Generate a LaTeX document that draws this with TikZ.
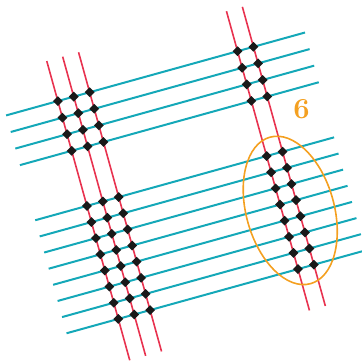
\documentclass[tikz,border=0pt]{standalone}
\usetikzlibrary{shapes.geometric}
\definecolor{cyanline}{HTML}{14A8B8}
\definecolor{redline}{HTML}{E8324F}
\definecolor{orangec}{HTML}{F4A020}
\begin{document}
\begin{tikzpicture}[x=1pt,y=1pt,
  cyanl/.style={cyanline, line width=2pt},
  redl/.style={redline, line width=1.6pt},
  dot/.style={diamond, fill=black!90, inner sep=0pt, minimum size=10pt},
  ring/.style={orangec, line width=1.6pt},
  lbl/.style={text=orangec, font=\bfseries\fontsize{29}{29}\selectfont}]
\useasboundingbox (0,0) rectangle (362,362);
\clip (0,0) rectangle (362,362);
\begin{scope}[rotate=15.5]
  \foreach \b [count=\i] in {236,218.8,201.6,184.4,127.2,110.4,93.7,76.9,60.2,43.4,26.7,9.9} {
    \coordinate (cs\i) at (71.8,\b);
    \coordinate (ce\i) at (382,\b);
    \draw[cyanl] (cs\i) -- (ce\i);
  }
  \foreach \a [count=\j] in {125.5,142,158.5,312,328.5} {
    \coordinate (rs\j) at (\a,277.5);
    \coordinate (re\j) at (\a,-33);
    \draw[redl] (rs\j) -- (re\j);
  }
  \foreach \b [count=\i] in {236,218.8,201.6,184.4,127.2,110.4,93.7,76.9,60.2,43.4,26.7,9.9} {
    \foreach \a [count=\j] in {125.5,142,158.5,312,328.5} {
      \node[dot] (d-\i-\j) at (\a,\b) {};
    }
  }
  \draw[ring] (320.2,68.5) ellipse [x radius=44, y radius=76];
\end{scope}
\node[lbl] (six) at (301.5,252.5) {6};
\end{tikzpicture}
\end{document}
